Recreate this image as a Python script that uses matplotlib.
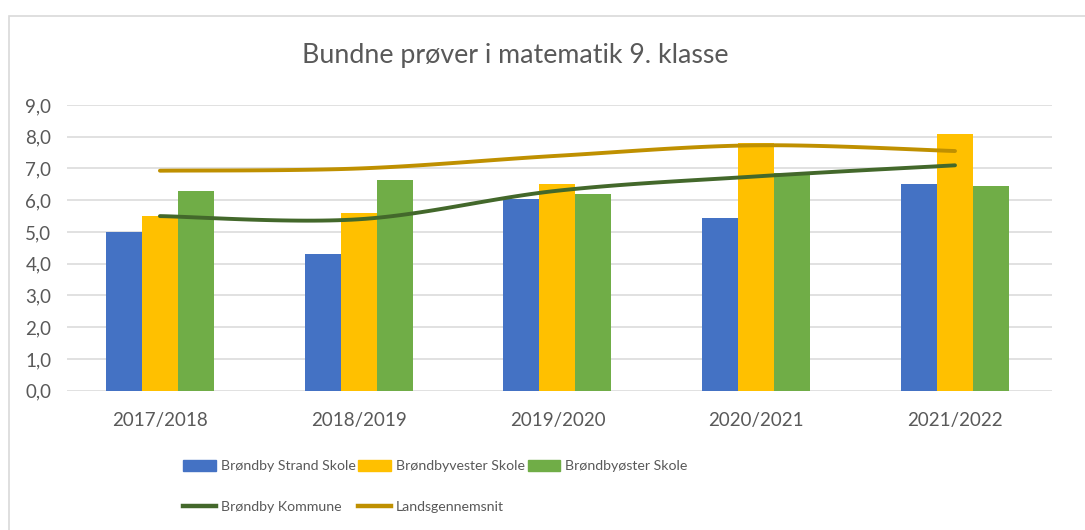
import numpy as np
import matplotlib
matplotlib.use("Agg")
import matplotlib.pyplot as plt
from matplotlib.patches import Rectangle, Patch
from matplotlib.lines import Line2D

plt.rcParams['font.family'] = ['Lato', 'DejaVu Sans']

categories = ["2017/2018", "2018/2019", "2019/2020", "2020/2021", "2021/2022"]
strand = [5.0, 4.3, 6.05, 5.45, 6.5]
vester = [5.5, 5.6, 6.5, 7.8, 8.1]
oester = [6.3, 6.65, 6.2, 6.85, 6.45]
kommune = [5.5, 5.4, 6.3, 6.75, 7.1]
lands = [6.93, 7.0, 7.4, 7.73, 7.55]
yticks = [0, 1, 2, 3, 4, 5, 6, 7, 8, 9]

C_BLUE, C_YEL, C_GRN = "#4472C4", "#FFC000", "#70AD47"
C_KOM, C_LAN = "#43682B", "#BF9000"
TXT = "#595959"

W, H = 1085, 530
fig = plt.figure(figsize=(W / 100, H / 100), dpi=100)

# chart area border
fig.patches.append(Rectangle((9 / W, -0.1), 1.2, 1 - 16 / H + 0.1, transform=fig.transFigure,
                             fill=False, edgecolor="#D9D9D9", linewidth=1.2))

ax = fig.add_axes([66.7 / W, 1 - 390.7 / H, (1052 - 66.7) / W, (390.7 - 105) / H])

x = np.arange(len(categories))
bw = 0.181
ax.bar(x - bw, strand, bw, color=C_BLUE, zorder=2)
ax.bar(x, vester, bw, color=C_YEL, zorder=2)
ax.bar(x + bw, oester, bw, color=C_GRN, zorder=2)


def smooth(xs, ys, n=30):
    xs = np.asarray(xs, float)
    ys = np.asarray(ys, float)
    P = np.column_stack([xs, ys])
    out = []
    for i in range(len(P) - 1):
        p0 = P[i - 1] if i > 0 else P[i]
        p1 = P[i]
        p2 = P[i + 1]
        p3 = P[i + 2] if i + 2 < len(P) else P[i + 1]
        c1 = p1 + (p2 - p0) / 6
        c2 = p2 - (p3 - p1) / 6
        t = np.linspace(0, 1, n)[:, None]
        seg = ((1 - t) ** 3) * p1 + 3 * ((1 - t) ** 2) * t * c1 + 3 * (1 - t) * t ** 2 * c2 + t ** 3 * p2
        out.append(seg if i == 0 else seg[1:])
    s = np.vstack(out)
    return s[:, 0], s[:, 1]


kx, ky = smooth(x, kommune)
lx, ly = smooth(x, lands)
ax.plot(kx, ky, color=C_KOM, lw=2.8, solid_capstyle="round", zorder=3)
ax.plot(lx, ly, color=C_LAN, lw=2.8, solid_capstyle="round", zorder=3)

ax.set_xlim(-0.469, 4.488)
ax.set_ylim(0, 9)
ax.set_yticks(yticks)
ax.set_yticklabels([f"{v:.1f}".replace(".", ",") for v in yticks])
ax.set_xticks(x)
ax.set_xticklabels(categories)
ax.grid(axis="y", color="#D9D9D9", linewidth=1.1, zorder=0)
ax.set_axisbelow(True)
for s in ax.spines.values():
    s.set_visible(False)
ax.tick_params(axis="both", length=0, colors=TXT, labelsize=13.5)
ax.tick_params(axis="y", pad=11)
ax.tick_params(axis="x", pad=15)

fig.text(515 / W, 1 - 55 / H, "Bundne prøver i matematik 9. klasse", ha="center", va="center",
         fontsize=19.3, color=TXT)

handles = [Patch(color=C_BLUE), Line2D([], [], color=C_KOM, lw=3.2),
           Patch(color=C_YEL), Line2D([], [], color=C_LAN, lw=3.2),
           Patch(color=C_GRN)]
labels = ["Brøndby Strand Skole", "Brøndby Kommune", "Brøndbyvester Skole", "Landsgennemsnit",
          "Brøndbyøster Skole"]
leg = fig.legend(handles, labels, ncol=3, loc="center left", bbox_to_anchor=(183 / W, 1 - 486.5 / H),
                 frameon=False, fontsize=10.2, labelcolor=TXT, handlelength=2.3, handleheight=0.9,
                 handletextpad=0.35, columnspacing=0.2, labelspacing=2.0, borderpad=0, borderaxespad=0)

fig.savefig("out.png", dpi=100)
